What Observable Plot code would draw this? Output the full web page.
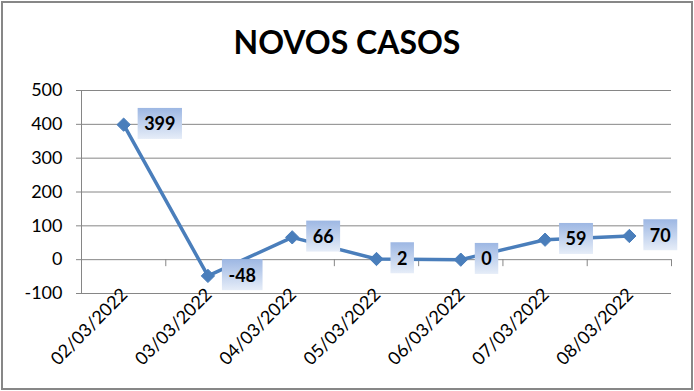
<!DOCTYPE html>
<html>
<head>
<meta charset="utf-8">
<script src="https://cdn.jsdelivr.net/npm/d3@7"></script>
<script src="https://cdn.jsdelivr.net/npm/@observablehq/plot@0.6"></script>
<style>
  body { margin: 0; background: #fff; }
  #wrap { position: relative; width: 694px; height: 391px; overflow: hidden; background: #fff; font-family: Lato, "Open Sans", sans-serif; }
  #border { position: absolute; left: 1px; top: 1px; width: 688px; height: 385px; border: 2px solid #878787; pointer-events: none; }
  #title { height: 70px; margin: 0; text-align: center; font: bold 32px Lato, sans-serif; line-height: 1; padding-top: 0; box-sizing: border-box; position: relative; }
  #title span { position: absolute; left: 0; right: 0; top: 26px; }
  svg { display: block; }
</style>
</head>
<body>
<div id="wrap">
  <div id="title"><span>NOVOS CASOS</span></div>
  <div id="chart"></div>
  <div id="border"></div>
</div>
<script>
const dates = ["02/03/2022", "03/03/2022", "04/03/2022", "05/03/2022", "06/03/2022", "07/03/2022", "08/03/2022"];
const novosCasos = [399, -48, 66, 2, 0, 59, 70];
const yTicks = [-100, 0, 100, 200, 300, 400, 500];

const data = dates.map((d, i) => ({i, date: d, value: novosCasos[i]}));
const boundaries = dates.map((d, i) => i + 0.5);

const blue = "#4a7ebb";
const grid = "#868686";

const plot = Plot.plot({
  width: 694,
  height: 321,
  marginTop: 20,
  marginBottom: 98,
  marginLeft: 81,
  marginRight: 23,
  style: {fontFamily: "Lato, sans-serif", fontSize: "18px", color: "#000", background: "#fff"},
  x: {type: "linear", domain: [-0.5, dates.length - 0.5], axis: null},
  y: {domain: [-100, 500], axis: null},
  marks: [
    Plot.ruleY(yTicks, {stroke: grid, strokeWidth: 1}),
    Plot.ruleX([-0.5], {stroke: grid, strokeWidth: 1}),
    Plot.ruleX(boundaries, {y1: 0, y2: 0, insetBottom: -7, stroke: grid}),
    Plot.axisY(yTicks, {label: null, tickSize: 5, tickPadding: 14, stroke: grid, fill: "#000", fontSize: 18, tickFormat: d => String(d).replace("−", "-")}),
    Plot.text(data, {x: "i", text: "date", frameAnchor: "bottom", rotate: -45, textAnchor: "end", lineAnchor: "middle", dx: 1, dy: -2, fontSize: 18, fill: "#000"}),
    Plot.line(data, {x: "i", y: "value", stroke: blue, strokeWidth: 3.5, strokeLinejoin: "round"}),
    Plot.dot(data, {x: "i", y: "value", symbol: "diamond2", r: 6, fill: blue, stroke: blue, strokeWidth: 1}),
    Plot.text(data, {x: "i", y: "value", text: d => String(d.value), textAnchor: "start", dx: 20.5, fontSize: 18, fontWeight: "bold", fill: "#000", className: "dlabel"})
  ]
});
document.getElementById("chart").appendChild(plot);

// gradient boxes behind data labels
const svg = d3.select(plot);
const defs = svg.insert("defs", ":first-child");
const grad = defs.append("linearGradient").attr("id", "lblgrad").attr("x1", 0).attr("y1", 0).attr("x2", 0).attr("y2", 1);
grad.append("stop").attr("offset", "0%").attr("stop-color", "#9db7e3");
grad.append("stop").attr("offset", "100%").attr("stop-color", "#e6edf8");
svg.selectAll("g.dlabel text, .dlabel text").each(function () {
  const t = this;
  const bb = t.getBBox();
  const tr = t.getAttribute("transform");
  const p = t.parentNode;
  const cy = bb.y + bb.height / 2;
  const r = document.createElementNS("http://www.w3.org/2000/svg", "rect");
  r.setAttribute("x", bb.x - 6.5);
  r.setAttribute("y", cy - 15.5);
  r.setAttribute("width", bb.width + 13);
  r.setAttribute("height", 31);
  r.setAttribute("fill", "url(#lblgrad)");
  if (tr) r.setAttribute("transform", tr);
  p.insertBefore(r, t);
});
</script>
</body>
</html>
